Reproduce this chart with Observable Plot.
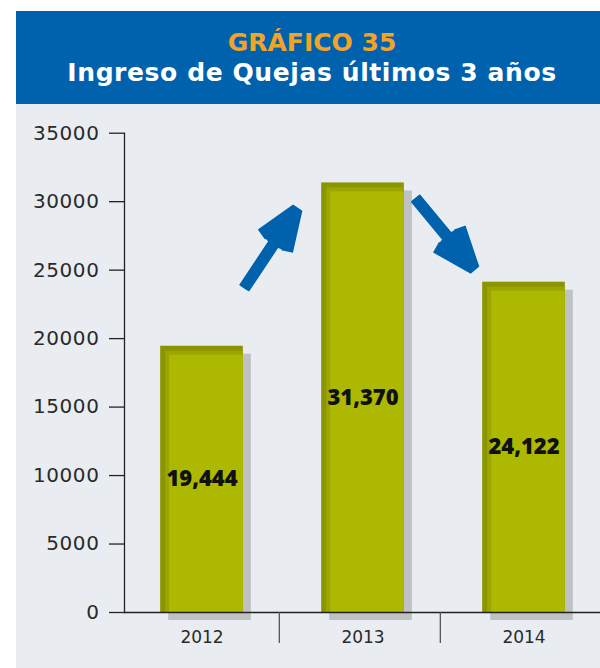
<!DOCTYPE html>
<html><head><meta charset="utf-8">
<script src="https://cdn.jsdelivr.net/npm/d3@7"></script>
<script src="https://cdn.jsdelivr.net/npm/@observablehq/plot@0.6"></script>
<style>
html,body{margin:0;padding:0;background:#fff;}
body{width:600px;height:668px;position:relative;overflow:hidden;}
#title{position:absolute;left:16px;top:11px;width:584px;height:93px;background:#0062ad;
  font-family:"DejaVu Sans",sans-serif;font-weight:700;text-align:center;box-sizing:border-box;
  padding-left:8px;padding-top:17px;}
#title div{font-size:25px;line-height:30px;white-space:nowrap;}
#t1{color:#f2a32a;}
#t2{color:#fff;letter-spacing:0.6px;}
#chart{position:absolute;left:16px;top:104px;width:584px;height:564px;background:#e9edf1;}
#chart svg{display:block;}
#chart g[aria-label="y-axis tick label"] text{letter-spacing:0.6px;}
</style>
</head><body>
<div id="title"><div id="t1">GRÁFICO 35</div><div id="t2">Ingreso de Quejas últimos 3 años</div></div>
<div id="chart"></div>
<script>
// ---- data ----
const years = ["2012", "2013", "2014"];
const quejas = [19444, 31370, 24122];
const yTicks = [0, 5000, 10000, 15000, 20000, 25000, 30000, 35000];
// trend arrows (annotation), in data units
const arrowFrom = ["2012", "2013"];
const arrowTo = ["2013", "2014"];
const arrowStartValue = [19059, 34884];
const arrowEndValue = [36731, 20680];
const arrowInsetStart = [76, 82];
const arrowInsetEnd = [120, 79];

const data = years.map((year, i) => ({year, value: quejas[i], label: d3.format(",")(quejas[i])}));
const arrows = arrowFrom.map((f, i) => ({from: f, to: arrowTo[i], v1: arrowStartValue[i], v2: arrowEndValue[i]}));

const W = 584, H = 564;
const xRange = [104, 588];
const step = (xRange[1] - xRange[0]) / years.length;
const barInset = (step - 83) / 2;

const blue = "#0062ad";
const marks = [
  // shadows
  Plot.barY(data, {x: "year", y: "value", fill: "#bfc2c5", insetLeft: barInset, insetRight: barInset, dx: 8, dy: 8}),
  // dark bar with lighter face
  Plot.barY(data, {x: "year", y: "value", fill: "#8b9500", insetLeft: barInset, insetRight: barInset}),
  Plot.barY(data, {x: "year", y: "value", fill: "#9ba600", insetLeft: barInset + 5, insetRight: barInset, insetTop: 5}),
  Plot.barY(data, {x: "year", y: "value", fill: "#adb900", insetLeft: barInset + 9, insetRight: barInset, insetTop: 9}),
  Plot.text(data, {x: "year", y: d => d.value / 2, text: "label", fontSize: 22, fontWeight: 800,
    fontFamily: "Open Sans", fill: "#111"}),
  Plot.frame({anchor: "left", stroke: "#222", strokeWidth: 1.3}),
  Plot.frame({anchor: "bottom", stroke: "#222", strokeWidth: 1.3}),
  Plot.axisY(yTicks, {tickSize: 15, tickPadding: 10, fontSize: 20, tickFormat: d => String(d),
    stroke: "#222", strokeWidth: 1.3, fill: "#2a2a2a", fontFamily: "DejaVu Sans"}),
  Plot.axisX({tickSize: 0, tickPadding: 18, fontSize: 17, fill: "#2a2a2a", fontFamily: "DejaVu Sans"}),
  Plot.axisX(years.slice(1), {tickSize: 31, tickFormat: () => "", dx: -step / 2 - 3, stroke: "#555", strokeWidth: 1.3})
];
arrows.forEach((a, i) => {
  const geom = {x1: "from", y1: "v1", x2: "to", y2: "v2",
    insetStart: arrowInsetStart[i], insetEnd: arrowInsetEnd[i], stroke: blue, strokeLinecap: "butt"};
  marks.push(Plot.arrow([a], {...geom, strokeWidth: 12, headLength: 5.4, headAngle: 42, strokeLinejoin: "miter"}));
  marks.push(Plot.arrow([a], {...geom, strokeWidth: 8, headLength: 8, headAngle: 20}));
});

const chart = Plot.plot({
  width: W, height: H,
  marginLeft: 108, marginRight: 0, marginTop: 28.7, marginBottom: 56,
  style: {background: "transparent", color: "#222", fontFamily: "DejaVu Sans"},
  x: {domain: years, range: xRange, padding: 0, label: null},
  y: {domain: [0, 35000], label: null},
  marks
});
document.getElementById("chart").appendChild(chart);
</script>
</body></html>
